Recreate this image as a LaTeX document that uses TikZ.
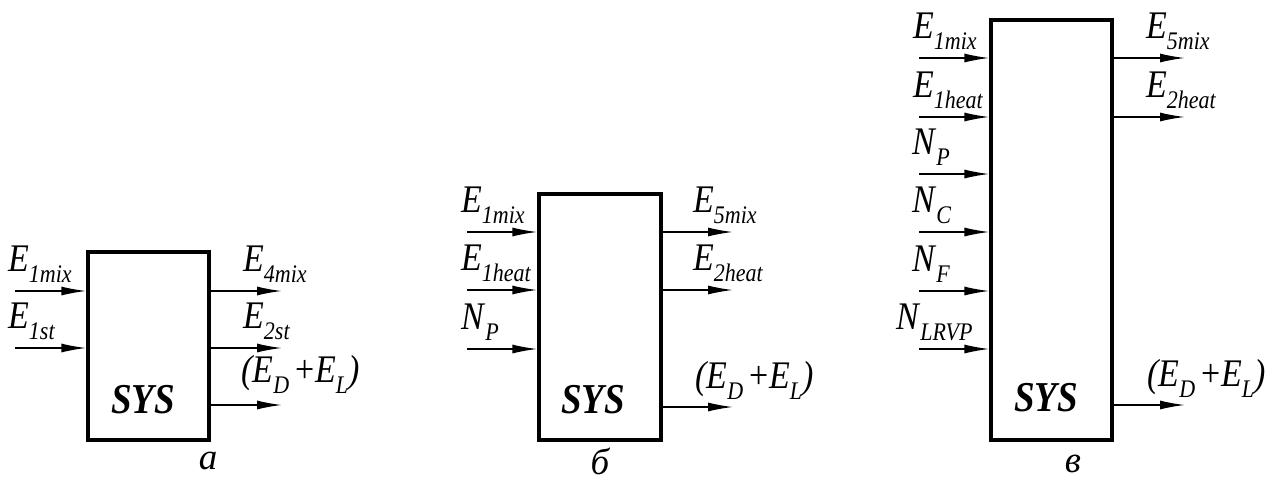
\documentclass[tikz,border=0pt]{standalone}
\usepackage{fontspec}
\setmainfont{Liberation Serif}
\usetikzlibrary{arrows.meta}
\newcommand\subsz{\fontsize{22}{22}\selectfont}
\newcommand\tall[1]{\scalebox{1}[1.15]{#1}}
\newcommand\lab[2]{\tall{\textit{#1}\raisebox{-0.3em}{\subsz\textit{#2}}}}
\newcommand\loss{\tall{\textit{(E}\raisebox{-0.3em}{\subsz\textit{D}}\hspace{0.2em}+\textit{E}\raisebox{-0.3em}{\subsz\textit{L}}\textit{)}}}
\tikzset{
  sysbox/.style={draw, line width=3.2pt, inner sep=0pt},
  flow/.style={line width=1.5pt, -{Latex[length=25pt,width=9pt]}},
  lbl/.style={font=\fontsize{34}{34}\selectfont, inner sep=0pt, anchor=base west},
  sysl/.style={font=\fontsize{37}{37}\selectfont\bfseries\itshape, inner sep=0pt},
  panelcap/.style={font=\fontsize{37}{37}\selectfont\itshape, inner sep=0pt, anchor=base}
}
\begin{document}
\begin{tikzpicture}[x=1pt,y=-1pt]
\useasboundingbox (0,0) rectangle (1272,482);
% ---------- panel a ----------
\node[sysbox, minimum width=121pt, minimum height=188pt] (boxa) at (148.5,346) {};
\node[sysl] (sysa) at (143,400) {\tall{SYS}};
\coordinate (ai1) at (15,291);
\coordinate (ai2) at (15,348);
\coordinate (ao1) at (282,291);
\coordinate (ao2) at (282,348);
\coordinate (ao3) at (282,405);
\draw[flow] (ai1) -- (ai1 -| boxa.west);
\draw[flow] (ai2) -- (ai2 -| boxa.west);
\draw[flow] (ao1 -| boxa.east) -- (ao1);
\draw[flow] (ao2 -| boxa.east) -- (ao2);
\draw[flow] (ao3 -| boxa.east) -- (ao3);
\node[lbl] (al1) at (8,271) {\lab{E}{1mix}};
\node[lbl] (al2) at (8,328) {\lab{E}{1st}};
\node[lbl] (al3) at (243,271) {\lab{E}{4mix}};
\node[lbl] (al4) at (243,328) {\lab{E}{2st}};
\node[lbl] (al5) at (241,382) {\loss};
\node[panelcap] (capa) at (208,469) {а};
% ---------- panel b ----------
\node[sysbox, minimum width=122pt, minimum height=246pt] (boxb) at (600,317) {};
\node[sysl] (sysb) at (593,400) {\tall{SYS}};
\coordinate (bi1) at (467,232);
\coordinate (bi2) at (467,290);
\coordinate (bi3) at (467,349);
\coordinate (bo1) at (733,232);
\coordinate (bo2) at (733,290);
\coordinate (bo3) at (733,407);
\draw[flow] (bi1) -- (bi1 -| boxb.west);
\draw[flow] (bi2) -- (bi2 -| boxb.west);
\draw[flow] (bi3) -- (bi3 -| boxb.west);
\draw[flow] (bo1 -| boxb.east) -- (bo1);
\draw[flow] (bo2 -| boxb.east) -- (bo2);
\draw[flow] (bo3 -| boxb.east) -- (bo3);
\node[lbl] (bl1) at (461,212) {\lab{E}{1mix}};
\node[lbl] (bl2) at (461,270) {\lab{E}{1heat}};
\node[lbl] (bl3) at (461,329) {\lab{N}{P}};
\node[lbl] (bl4) at (693,212) {\lab{E}{5mix}};
\node[lbl] (bl5) at (693,270) {\lab{E}{2heat}};
\node[lbl] (bl6) at (695,388) {\loss};
\node[panelcap] (capb) at (600,474) {б};
% ---------- panel c ----------
\node[sysbox, minimum width=121pt, minimum height=420pt] (boxc) at (1051.5,230) {};
\node[sysl] (sysc) at (1046,398) {\tall{SYS}};
\coordinate (ci1) at (919,58);
\coordinate (ci2) at (919,117);
\coordinate (ci3) at (919,174);
\coordinate (ci4) at (919,232);
\coordinate (ci5) at (919,291);
\coordinate (ci6) at (919,349);
\coordinate (co1) at (1185,58);
\coordinate (co2) at (1185,117);
\coordinate (co3) at (1185,405);
\foreach \i in {1,...,6} {\draw[flow] (ci\i) -- (ci\i -| boxc.west);}
\foreach \i in {1,2,3} {\draw[flow] (co\i -| boxc.east) -- (co\i);}
\node[lbl] (cl1) at (913,38) {\lab{E}{1mix}};
\node[lbl] (cl2) at (913,97) {\lab{E}{1heat}};
\node[lbl] (cl3) at (912,154) {\lab{N}{P}};
\node[lbl] (cl4) at (912,212) {\lab{N}{C}};
\node[lbl] (cl5) at (912,271) {\lab{N}{F}};
\node[lbl] (cl6) at (896,329) {\lab{N}{LRVP}};
\node[lbl] (cl7) at (1146,38) {\lab{E}{5mix}};
\node[lbl] (cl8) at (1146,97) {\lab{E}{2heat}};
\node[lbl] (cl9) at (1147,386) {\loss};
\node[panelcap] (capc) at (1073,472) {в};
\end{tikzpicture}
\end{document}
